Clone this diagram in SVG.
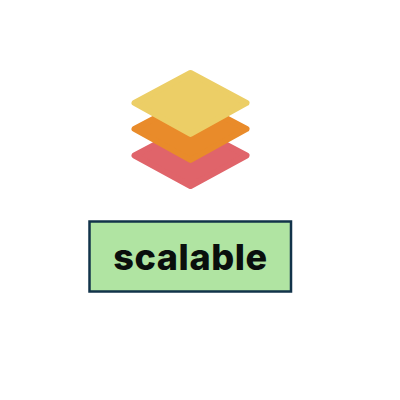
<svg xmlns="http://www.w3.org/2000/svg" width="400" height="400" viewBox="0 0 400 400">
<style>
.layer{stroke-width:6;stroke-linejoin:round}
.label{font-family:"Inter","Liberation Sans",sans-serif;font-weight:800;font-size:36px;letter-spacing:0.6px;fill:#0a0f0d;text-anchor:middle}
</style>
<rect width="400" height="400" fill="#ffffff"/>
<g id="icon">
<polygon class="layer" points="190.500,126 246.500,155.500 190.500,186 134.500,155.500" fill="#e0646a" stroke="#e0646a"/>
<polygon class="layer" points="190.500,99.500 246.500,129 190.500,160 134.500,129" fill="#e98b2a" stroke="#e98b2a"/>
<polygon class="layer" points="190.500,73 246.500,103 190.500,134 134.500,103" fill="#ecce66" stroke="#ecce66"/>
</g>
<g id="scalable">
<rect x="89.500" y="221.500" width="201.500" height="70" fill="#b0e4a2" stroke="#12334a" stroke-width="2.500"/>
<text class="label" x="190.500" y="270">scalable</text>
</g>
<g id="connectors"/>
</svg>
